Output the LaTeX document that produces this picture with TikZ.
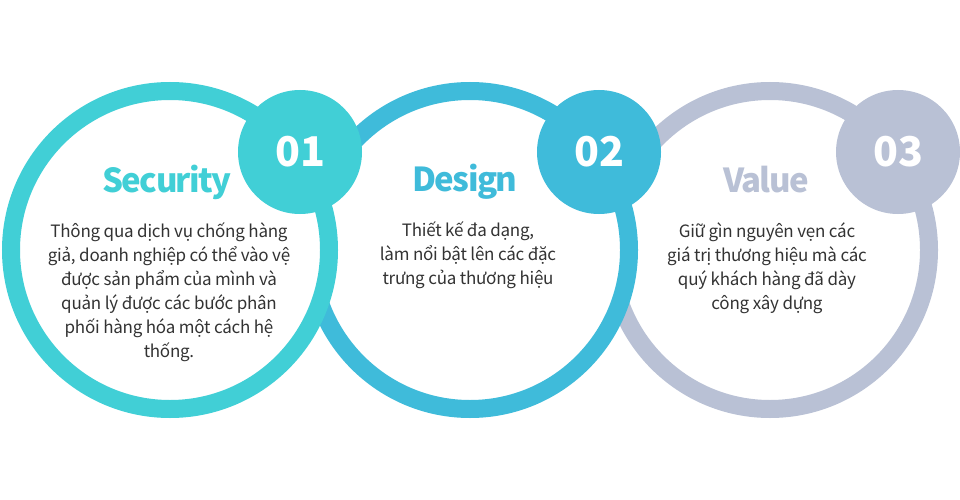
\documentclass[tikz,border=0pt]{standalone}
\usepackage{fontspec}
\setmainfont{Noto Sans CJK KR}
\usetikzlibrary{positioning}
\definecolor{mcyan}{HTML}{41CFD6}
\definecolor{mblue}{HTML}{3FBBDA}
\definecolor{mgrey}{HTML}{B9C1D5}
\definecolor{mtext}{HTML}{333333}
\tikzset{ring/.style = {circle, fill = white, line width = 18pt, minimum size = 318pt, inner sep = 0}}
\tikzset{badge/.style = {circle, minimum size = 124pt, inner sep = 0, text = white, font = \fontsize{41}{41}\selectfont\bfseries}}
\tikzset{title/.style = {inner sep = 0, font = \fontsize{33}{33}\selectfont\bfseries\addfontfeatures{LetterSpace = -5}}}
\tikzset{body/.style = {inner sep = 0, align = center, text = mtext, font = \fontsize{17}{24}\selectfont\addfontfeatures{LetterSpace = -1.5}}}

\begin{document}
\begin{tikzpicture}[x = 1pt, y = -1pt]
       \useasboundingbox (0, 0) rectangle (960, 500);

       % third circle
       \node [ring, draw = mgrey] (ring3) at (770, 250) {};
       \node [badge, fill = mgrey] (badge3) at (898, 152) {03};
       \node [title, text = mgrey] (title3) at (766, 180) {Value};
       \node [body] (text3) at (767, 268) {Giữ gìn nguyên vẹn các\\giá trị thương hiệu mà các\\quý khách hàng đã dày\\công xây dựng};

       % second circle
       \node [ring, draw = mblue] (ring2) at (470, 250) {};
       \node [badge, fill = mblue] (badge2) at (599, 152) {02};
       \node [title, text = mblue] (title2) at (465, 182) {Design};
       \node [body] (text2) at (468, 255) {Thiết kế đa dạng,\\làm nổi bật lên các đặc\\trưng của thương hiệu};

       % first circle
       \node [ring, draw = mcyan] (ring1) at (170, 250) {};
       \node [badge, fill = mcyan] (badge1) at (300, 152) {01};
       \node [title, text = mcyan] (title1) at (167, 182) {Security};
       \node [body] (text1) at (169, 292) {Thông qua dịch vụ chống hàng\\giả, doanh nghiệp có thể vào vệ\\được sản phẩm của mình và\\quản lý được các bước phân\\phối hàng hóa một cách hệ\\thống.};
    \end{tikzpicture}
\end{document}
